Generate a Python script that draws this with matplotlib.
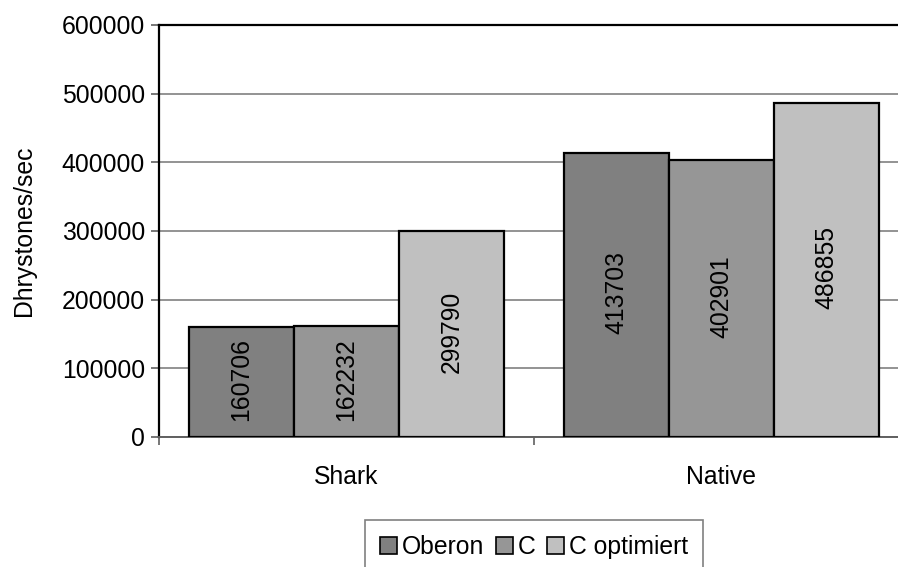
import numpy as np
import matplotlib
matplotlib.use('Agg')
import matplotlib.pyplot as plt
from matplotlib.ticker import FixedLocator

plt.rcParams['font.family'] = ['Liberation Sans', 'DejaVu Sans']

# Dhrystone-Messwerte
kategorien = ['Shark', 'Native']
serien = ['Oberon', 'C', 'C optimiert']
werte_oberon = [160706, 413703]
werte_c = [162232, 402901]
werte_c_opt = [299790, 486855]
farben = ['#808080', '#969696', '#c0c0c0']
y_ticks = [0, 100000, 200000, 300000, 400000, 500000, 600000]

fs = 17.8

fig = plt.figure(figsize=(8.98, 5.67), dpi=100)
# Achse reicht rechts bewusst etwas ueber das Bild hinaus
ax = fig.add_axes([159 / 898, 130 / 567, 750 / 898, 412 / 567])

x = np.arange(len(kategorien))
breite = 0.28
alle_werte = [werte_oberon, werte_c, werte_c_opt]

for i, (name, werte) in enumerate(zip(serien, alle_werte)):
    bars = ax.bar(x + (i - 1) * breite, werte, breite, color=farben[i],
                  edgecolor='black', linewidth=1.6, label=name, zorder=3)
    for b, v in zip(bars, werte):
        ax.text(b.get_x() + b.get_width() / 2, v / 2 + 3000, str(v), rotation=90,
                ha='center', va='center', fontsize=fs, zorder=4)

ax.set_xlim(-0.5, 1.5)
ax.set_ylim(0, 600000)
ax.set_yticks(y_ticks)
ax.set_yticklabels([str(t) for t in y_ticks], fontsize=fs)
ax.grid(axis='y', color='#808080', linewidth=1.2, zorder=0)

ax.set_xticks(x)
ax.set_xticklabels(kategorien, fontsize=fs)
ax.xaxis.set_minor_locator(FixedLocator([-0.5, 0.5, 1.5]))
ax.tick_params(axis='x', which='major', length=0, pad=20)
ax.tick_params(axis='x', which='minor', length=6, width=1.2, color='#606060', direction='out')
ax.tick_params(axis='y', length=6, width=1.2, color='#606060', direction='out', pad=4)

ax.spines['right'].set_visible(False)
ax.spines['top'].set_color('black')
ax.spines['top'].set_linewidth(1.6)
ax.spines['left'].set_color('black')
ax.spines['left'].set_linewidth(1.6)
ax.spines['bottom'].set_color('#606060')
ax.spines['bottom'].set_linewidth(1.4)

ax.set_ylabel('Dhrystones/sec', fontsize=fs)
ax.yaxis.set_label_coords(-0.164, 0.5)

leg = fig.legend(loc='upper left', bbox_to_anchor=(365 / 898, 1 - 520 / 567),
                 ncol=3, fontsize=fs, frameon=True, fancybox=False,
                 handlelength=0.7, handleheight=0.7, handletextpad=0.2,
                 columnspacing=0.45, borderpad=0.6, borderaxespad=0)
leg.get_frame().set_edgecolor('#606060')
leg.get_frame().set_linewidth(1.2)
for h in leg.legend_handles:
    h.set_linewidth(1.2)

fig.savefig('out.png', dpi=100)
